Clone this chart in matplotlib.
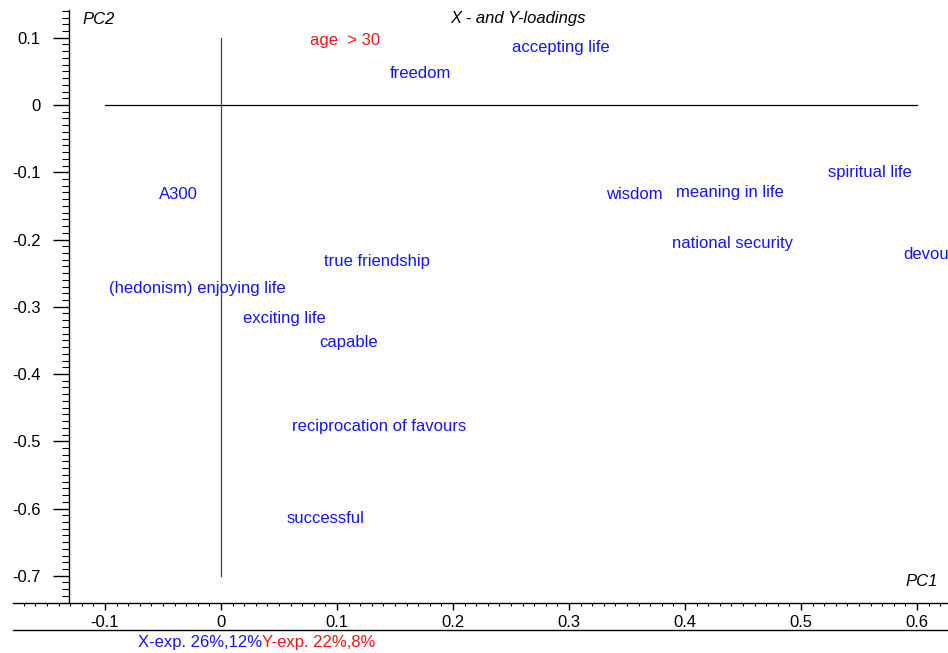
import matplotlib
matplotlib.use("Agg")
import matplotlib.pyplot as plt
from matplotlib.lines import Line2D
from matplotlib.ticker import MultipleLocator, FixedLocator

plt.rcParams['font.family'] = ['Liberation Sans', 'DejaVu Sans']
plt.rcParams['font.size'] = 12

# Loadings on the first two principal components
x_labels = ["A300", "accepting life", "freedom", "spiritual life", "wisdom",
            "meaning in life", "national security", "devout", "true friendship",
            "(hedonism) enjoying life", "exciting life", "capable",
            "reciprocation of favours", "successful"]
x_pc1 = [-0.037, 0.293, 0.172, 0.559, 0.356, 0.439, 0.441, 0.610, 0.134,
         -0.020, 0.055, 0.110, 0.136, 0.090]
x_pc2 = [-0.133, 0.086, 0.047, -0.100, -0.133, -0.130, -0.206, -0.222, -0.232,
         -0.273, -0.317, -0.353, -0.478, -0.615]

y_labels = ["age  > 30"]
y_pc1 = [0.107]
y_pc2 = [0.096]

y_ticks = [0.1, 0, -0.1, -0.2, -0.3, -0.4, -0.5, -0.6, -0.7]
x_ticks = [-0.1, 0, 0.1, 0.2, 0.3, 0.4, 0.5, 0.6]
x_exp = "X-exp. 26%,12%"
y_exp = "Y-exp. 22%,8%"

BLUE = "#1414f5"
RED = "#f01414"

W, H = 948, 653
fig = plt.figure(figsize=(W / 100, H / 100), dpi=100)
ax = fig.add_axes([13 / W, (H - 603) / H, (W - 13) / W, (603 - 10) / H])
ax.set_xlim(-0.1793, 0.6267)
ax.set_ylim(-0.7405, 0.1413)

for s in ("top", "right"):
    ax.spines[s].set_visible(False)
ax.spines["left"].set_position(("data", -0.131))
ax.spines["left"].set_linewidth(1.0)
ax.spines["bottom"].set_linewidth(1.0)

ax.xaxis.set_major_locator(FixedLocator(x_ticks))
ax.xaxis.set_minor_locator(MultipleLocator(0.01))
ax.yaxis.set_major_locator(FixedLocator(y_ticks))
ax.yaxis.set_minor_locator(MultipleLocator(0.01))
ax.set_xticklabels(["%g" % v for v in x_ticks])
ax.set_yticklabels(["%g" % v for v in y_ticks])
ax.tick_params(axis="y", which="major", direction="out", length=11.5, width=1.0, pad=9, labelsize=12)
ax.tick_params(axis="y", which="minor", direction="out", length=5, width=0.8)
ax.tick_params(axis="x", which="major", direction="out", length=5, width=1.0, pad=3.5, labelsize=12)
ax.tick_params(axis="x", which="minor", direction="out", length=2.2, width=0.8)

# Reference lines through the origin
ax.plot([-0.1, 0.6], [0, 0], color="black", lw=0.9)
ax.plot([0, 0], [0.1, -0.7], color="#444444", lw=0.9)

for lab, px, py in zip(x_labels, x_pc1, x_pc2):
    ax.text(px, py, lab, color=BLUE, ha="center", va="center", fontsize=12, clip_on=False)
for lab, px, py in zip(y_labels, y_pc1, y_pc2):
    ax.text(px, py, lab, color=RED, ha="center", va="center", fontsize=12, clip_on=False)

fig.text(518 / W, 1 - 19 / H, "X - and Y-loadings", style="italic", ha="center", va="center", fontsize=12)
fig.text(82 / W, 1 - 19 / H, "PC2", style="italic", ha="left", va="center", fontsize=12)
fig.text(938 / W, 1 - 582 / H, "PC1", style="italic", ha="right", va="center", fontsize=12)

# Bottom frame line
fig.add_artist(Line2D([13 / W, 1.0], [1 - 630 / H, 1 - 630 / H], color="black", lw=1.0))

# Explained variance captions
t1 = fig.text(138 / W, 1 - 643 / H, x_exp, color=BLUE, ha="left", va="center", fontsize=12)
fig.canvas.draw()
bb = t1.get_window_extent(renderer=fig.canvas.get_renderer())
fig.text(bb.x1 / W, 1 - 643 / H, y_exp, color=RED, ha="left", va="center", fontsize=12)

fig.savefig("out.png", dpi=100)
